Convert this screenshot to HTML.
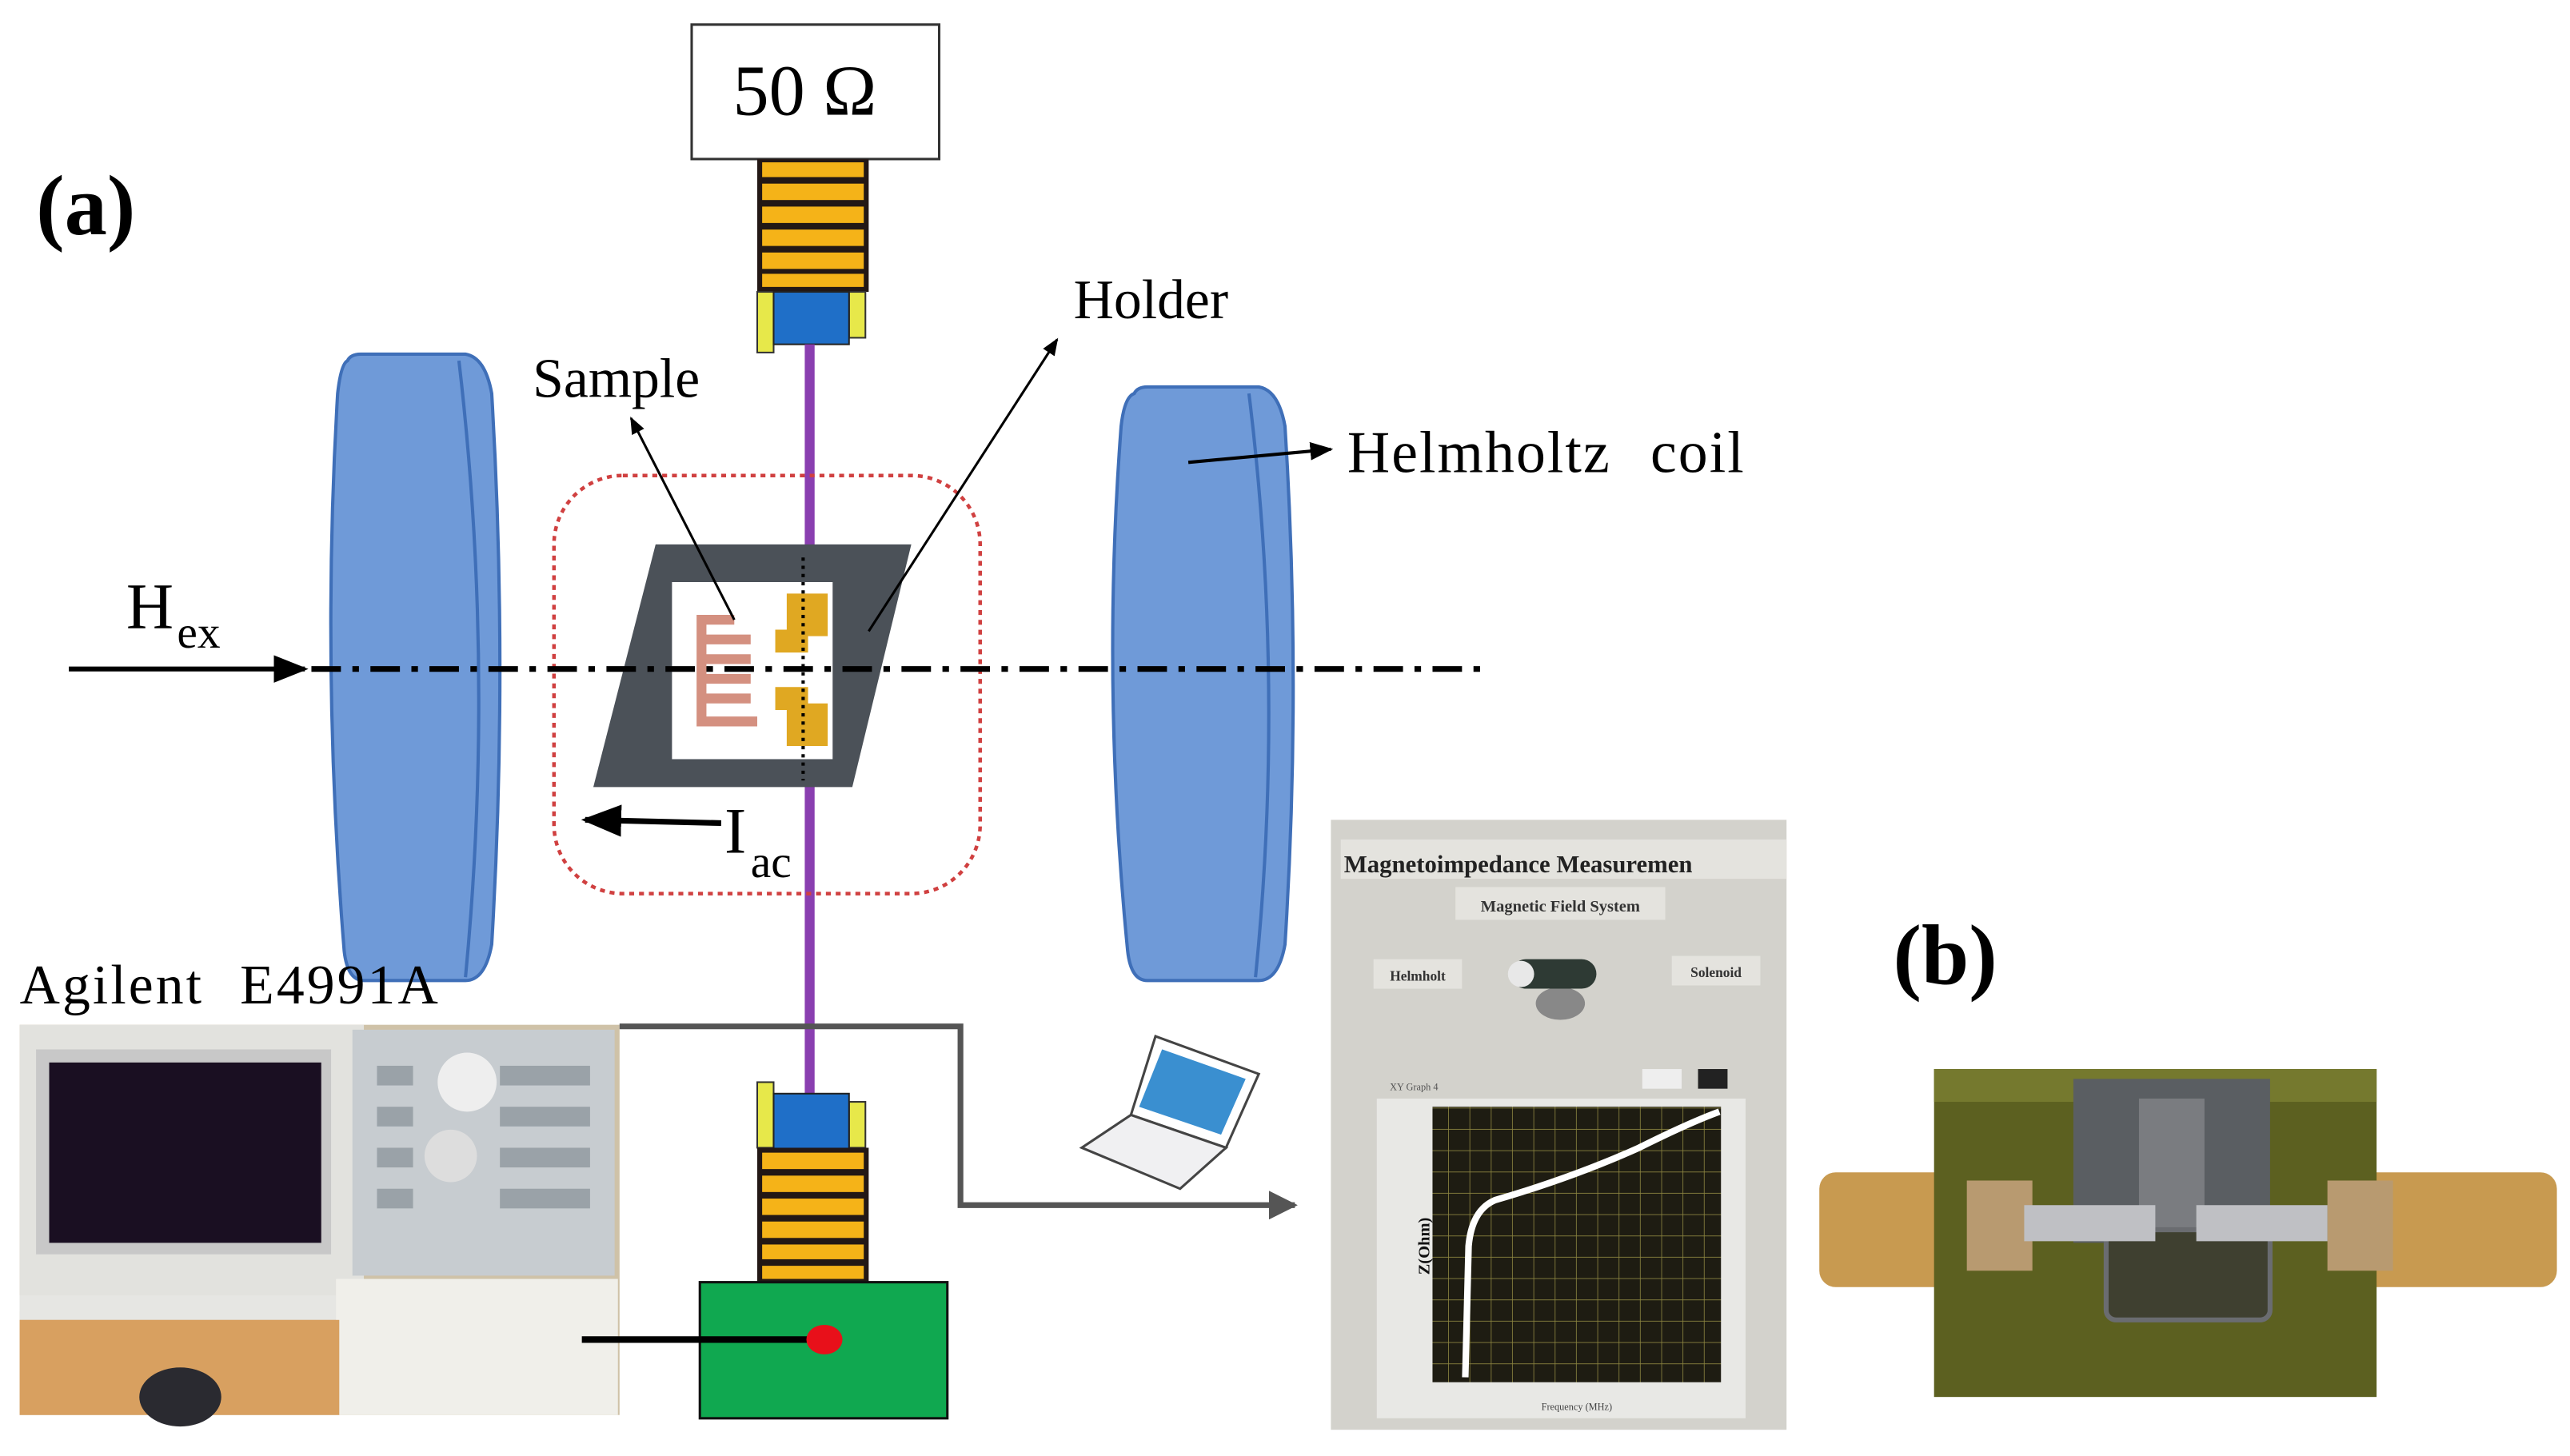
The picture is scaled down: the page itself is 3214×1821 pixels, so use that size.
<!DOCTYPE html>
<html><head><meta charset="utf-8"><style>
html,body{margin:0;padding:0;background:#fff;}
svg{display:block;}
text{font-family:"Liberation Serif",serif;}
</style></head><body>
<svg width="3214" height="1821" viewBox="0 0 1568 888" preserveAspectRatio="none" xmlns="http://www.w3.org/2000/svg">
<defs>
<marker id="ah" viewBox="0 0 10 10" refX="9" refY="5" markerWidth="7" markerHeight="7" orient="auto"><path d="M0,1 L10,5 L0,9 z" fill="#000"/></marker>
<marker id="ahg" viewBox="0 0 10 10" refX="9" refY="5" markerWidth="5" markerHeight="5" orient="auto"><path d="M0,0 L10,5 L0,10 z" fill="#555"/></marker>
<pattern id="grid" width="13" height="13" patternUnits="userSpaceOnUse"><rect width="13" height="13" fill="#1e1c12"/><path d="M13,0 V13 M0,13 H13" stroke="#8c8540" stroke-width="0.8"/></pattern>
</defs>
<rect width="1568" height="888" fill="#fff"/>

<!-- Left coil -->
<path d="M212,220 Q214,216 220,216 L284,216 Q296,218 300,240 Q310,408 300,576 Q296,598 284,598 L222,598 Q212,598 210,580 Q196,408 206,240 Q208,222 212,220 Z" fill="#6f9ad8" stroke="#3f6fb8" stroke-width="2"/>
<path d="M280,220 Q302,408 284,596" fill="none" stroke="#3f6fb8" stroke-width="2"/>
<!-- Right coil -->
<path d="M692,240 Q694,236 700,236 L768,236 Q780,238 784,260 Q794,418 784,576 Q780,598 768,598 L700,598 Q690,598 688,580 Q672,418 684,260 Q686,242 692,240 Z" fill="#6f9ad8" stroke="#3f6fb8" stroke-width="2"/>
<path d="M762,240 Q784,418 766,596" fill="none" stroke="#3f6fb8" stroke-width="2"/>

<!-- 50 ohm box -->
<rect x="422" y="15" width="151" height="82" fill="#fff" stroke="#333" stroke-width="1.5"/>
<text x="491" y="70" font-size="44" text-anchor="middle">50 Ω</text>
<!-- top connector -->
<rect x="462" y="97" width="68" height="81" fill="#231815"/>
<g fill="#f5b318"><rect x="465" y="99" width="62" height="9"/><rect x="465" y="112" width="62" height="10"/><rect x="465" y="126" width="62" height="10"/><rect x="465" y="140" width="62" height="10"/><rect x="465" y="154" width="62" height="10"/><rect x="465" y="167" width="62" height="8"/></g>
<rect x="462" y="178" width="10" height="37" fill="#e7e84a" stroke="#333"/>
<rect x="518" y="178" width="10" height="28" fill="#e7e84a" stroke="#333"/>
<rect x="472" y="178" width="46" height="32" fill="#1f6fc8" stroke="#222"/>
<!-- purple line -->
<line x1="494" y1="210" x2="494" y2="668" stroke="#8a3fb0" stroke-width="6"/>

<!-- red dotted box -->
<rect x="338" y="290" width="260" height="255" rx="42" fill="none" stroke="#d04040" stroke-width="2.2" stroke-dasharray="3,3"/>
<!-- holder -->
<polygon points="400,332 556,332 520,480 362,480" fill="#4b5158"/>
<rect x="410" y="355" width="98" height="108" fill="#fff"/>
<path d="M448,378 L428,378 L428,440 L462,440 M428,390 L458,390 M428,402 L458,402 M428,414 L458,414 M428,426 L458,426" fill="none" stroke="#d49080" stroke-width="6"/>
<path d="M480,362 h25 v26 h-12 v10 h-20 v-14 h7 z" fill="#e0a822"/>
<path d="M480,455 h25 v-26 h-12 v-10 h-20 v14 h7 z" fill="#e0a822"/>
<line x1="490" y1="340" x2="490" y2="476" stroke="#000" stroke-width="2" stroke-dasharray="2,3"/>

<!-- dash-dot axis -->
<line x1="190" y1="408" x2="910" y2="408" stroke="#000" stroke-width="3.5" stroke-dasharray="18,7,4,7"/>
<line x1="42" y1="408" x2="186" y2="408" stroke="#000" stroke-width="3" marker-end="url(#ah)"/>
<text x="77" y="383" font-size="40">H</text><text x="108" y="395" font-size="28">ex</text>

<text x="22" y="143" font-size="52" font-weight="bold">(a)</text>

<!-- labels -->
<text x="325" y="242" font-size="34">Sample</text>
<line x1="448" y1="378" x2="385" y2="255" stroke="#000" stroke-width="1.5" marker-end="url(#ah)"/>
<text x="655" y="194" font-size="34">Holder</text>
<line x1="530" y1="385" x2="645" y2="207" stroke="#000" stroke-width="1.5" marker-end="url(#ah)"/>
<text x="822" y="288" font-size="36" word-spacing="14" letter-spacing="1">Helmholtz coil</text>
<line x1="725" y1="282" x2="812" y2="274" stroke="#000" stroke-width="2" marker-end="url(#ah)"/>
<text x="442" y="520" font-size="40">I</text><text x="458" y="535" font-size="28">ac</text>
<line x1="440" y1="502" x2="357" y2="500" stroke="#000" stroke-width="3.5" marker-end="url(#ah)"/>

<text x="12" y="612" font-size="34" word-spacing="12" letter-spacing="1.5">Agilent E4991A</text>

<!-- Agilent photo -->
<rect x="12" y="625" width="366" height="238" fill="#cfc2a8"/>
<rect x="12" y="625" width="210" height="175" fill="#e2e2de"/>
<rect x="22" y="640" width="180" height="125" fill="#c8c8c8"/>
<rect x="30" y="648" width="166" height="110" fill="#1a0f22"/>
<rect x="215" y="628" width="160" height="150" fill="#c7ccd0"/>
<circle cx="285" cy="660" r="18" fill="#eee"/>
<circle cx="275" cy="705" r="16" fill="#ddd"/>
<g fill="#9aa2a8"><rect x="230" y="650" width="22" height="12"/><rect x="230" y="675" width="22" height="12"/><rect x="230" y="700" width="22" height="12"/><rect x="230" y="725" width="22" height="12"/><rect x="305" y="650" width="55" height="12"/><rect x="305" y="675" width="55" height="12"/><rect x="305" y="700" width="55" height="12"/><rect x="305" y="725" width="55" height="12"/></g>
<rect x="12" y="790" width="220" height="15" fill="#e6e6e3"/>
<rect x="205" y="780" width="172" height="83" fill="#f0efea"/>
<rect x="12" y="805" width="195" height="58" fill="#d8a060"/>
<ellipse cx="110" cy="852" rx="25" ry="18" fill="#2a2a30"/>

<!-- gray connector line -->
<polyline points="378,626 586,626 586,735 790,735" fill="none" stroke="#555" stroke-width="3.5" marker-end="url(#ahg)"/>

<!-- bottom connector -->
<rect x="462" y="660" width="10" height="40" fill="#e7e84a" stroke="#333"/>
<rect x="518" y="672" width="10" height="28" fill="#e7e84a" stroke="#333"/>
<rect x="472" y="667" width="46" height="34" fill="#1f6fc8" stroke="#222"/>
<rect x="462" y="700" width="68" height="82" fill="#231815"/>
<g fill="#f5b318"><rect x="465" y="703" width="62" height="10"/><rect x="465" y="717" width="62" height="10"/><rect x="465" y="731" width="62" height="10"/><rect x="465" y="745" width="62" height="10"/><rect x="465" y="759" width="62" height="9"/><rect x="465" y="772" width="62" height="8"/></g>
<rect x="427" y="782" width="151" height="83" fill="#10a850" stroke="#111" stroke-width="1.5"/>
<line x1="355" y1="817" x2="500" y2="817" stroke="#000" stroke-width="4"/>
<ellipse cx="503" cy="817" rx="11" ry="9" fill="#e8101a"/>

<!-- laptop -->
<polygon points="705,632 768,655 748,700 690,680" fill="#fff" stroke="#444" stroke-width="1.5"/>
<polygon points="709,640 760,658 745,692 695,675" fill="#3a8fd0"/>
<polygon points="690,680 748,700 720,725 660,700" fill="#f0f0f2" stroke="#444" stroke-width="1.5"/>

<!-- software screenshot -->
<rect x="812" y="500" width="278" height="372" fill="#d3d2cc"/>
<rect x="818" y="512" width="272" height="24" fill="#e4e3de"/>
<text x="820" y="532" font-family="Liberation Sans,sans-serif" font-size="15" font-weight="bold" fill="#222">Magnetoimpedance Measuremen</text>
<rect x="888" y="541" width="128" height="20" fill="#e4e3de"/>
<text x="952" y="556" font-family="Liberation Sans,sans-serif" font-size="10" font-weight="bold" fill="#333" text-anchor="middle">Magnetic Field System</text>
<rect x="838" y="585" width="54" height="18" fill="#e4e3de"/><text x="865" y="598" font-family="Liberation Sans,sans-serif" font-size="8.5" font-weight="bold" fill="#333" text-anchor="middle">Helmholt</text>
<rect x="1020" y="583" width="54" height="18" fill="#e4e3de"/><text x="1047" y="596" font-family="Liberation Sans,sans-serif" font-size="8.5" font-weight="bold" fill="#333" text-anchor="middle">Solenoid</text>
<ellipse cx="952" cy="612" rx="15" ry="10" fill="#888"/>
<rect x="922" y="585" width="52" height="18" rx="9" fill="#2e3a34"/>
<ellipse cx="928" cy="594" rx="8" ry="8" fill="#e8e8e8"/>
<rect x="840" y="670" width="225" height="195" fill="#e8e8e5"/>
<text x="848" y="665" font-family="Liberation Sans,sans-serif" font-size="6" fill="#555">XY Graph 4</text>
<rect x="1002" y="652" width="24" height="12" fill="#eee"/><rect x="1036" y="652" width="18" height="12" fill="#222"/>
<rect x="874" y="675" width="176" height="168" fill="url(#grid)"/>
<path d="M894,840 L896,760 Q898,738 912,732 Q960,718 1000,700 Q1030,685 1049,678" fill="none" stroke="#fff" stroke-width="4"/>
<text x="872" y="760" font-family="Liberation Sans,sans-serif" font-size="10" font-weight="bold" fill="#111" transform="rotate(-90 872 760)" text-anchor="middle">Z(Ohm)</text>
<text x="962" y="860" font-family="Liberation Sans,sans-serif" font-size="6" fill="#444" text-anchor="middle">Frequency (MHz)</text>

<!-- (b) -->
<text x="1155" y="600" font-size="52" font-weight="bold">(b)</text>
<!-- PCB photo -->
<rect x="1110" y="715" width="450" height="70" rx="10" fill="#c89a50"/>
<rect x="1180" y="652" width="270" height="200" fill="#5c6020"/>
<rect x="1180" y="652" width="270" height="20" fill="#75792e"/>
<rect x="1265" y="658" width="120" height="100" fill="#5a5e62"/>
<rect x="1305" y="670" width="40" height="90" fill="#7a7c80"/>
<rect x="1285" y="750" width="100" height="55" rx="6" fill="#3f4030" stroke="#6a6c70" stroke-width="3"/>
<rect x="1200" y="720" width="40" height="55" fill="#b89a70"/>
<rect x="1420" y="720" width="40" height="55" fill="#b89a70"/>
<rect x="1235" y="735" width="80" height="22" fill="#bfc0c4"/>
<rect x="1340" y="735" width="80" height="22" fill="#bfc0c4"/>
</svg>
</body></html>
